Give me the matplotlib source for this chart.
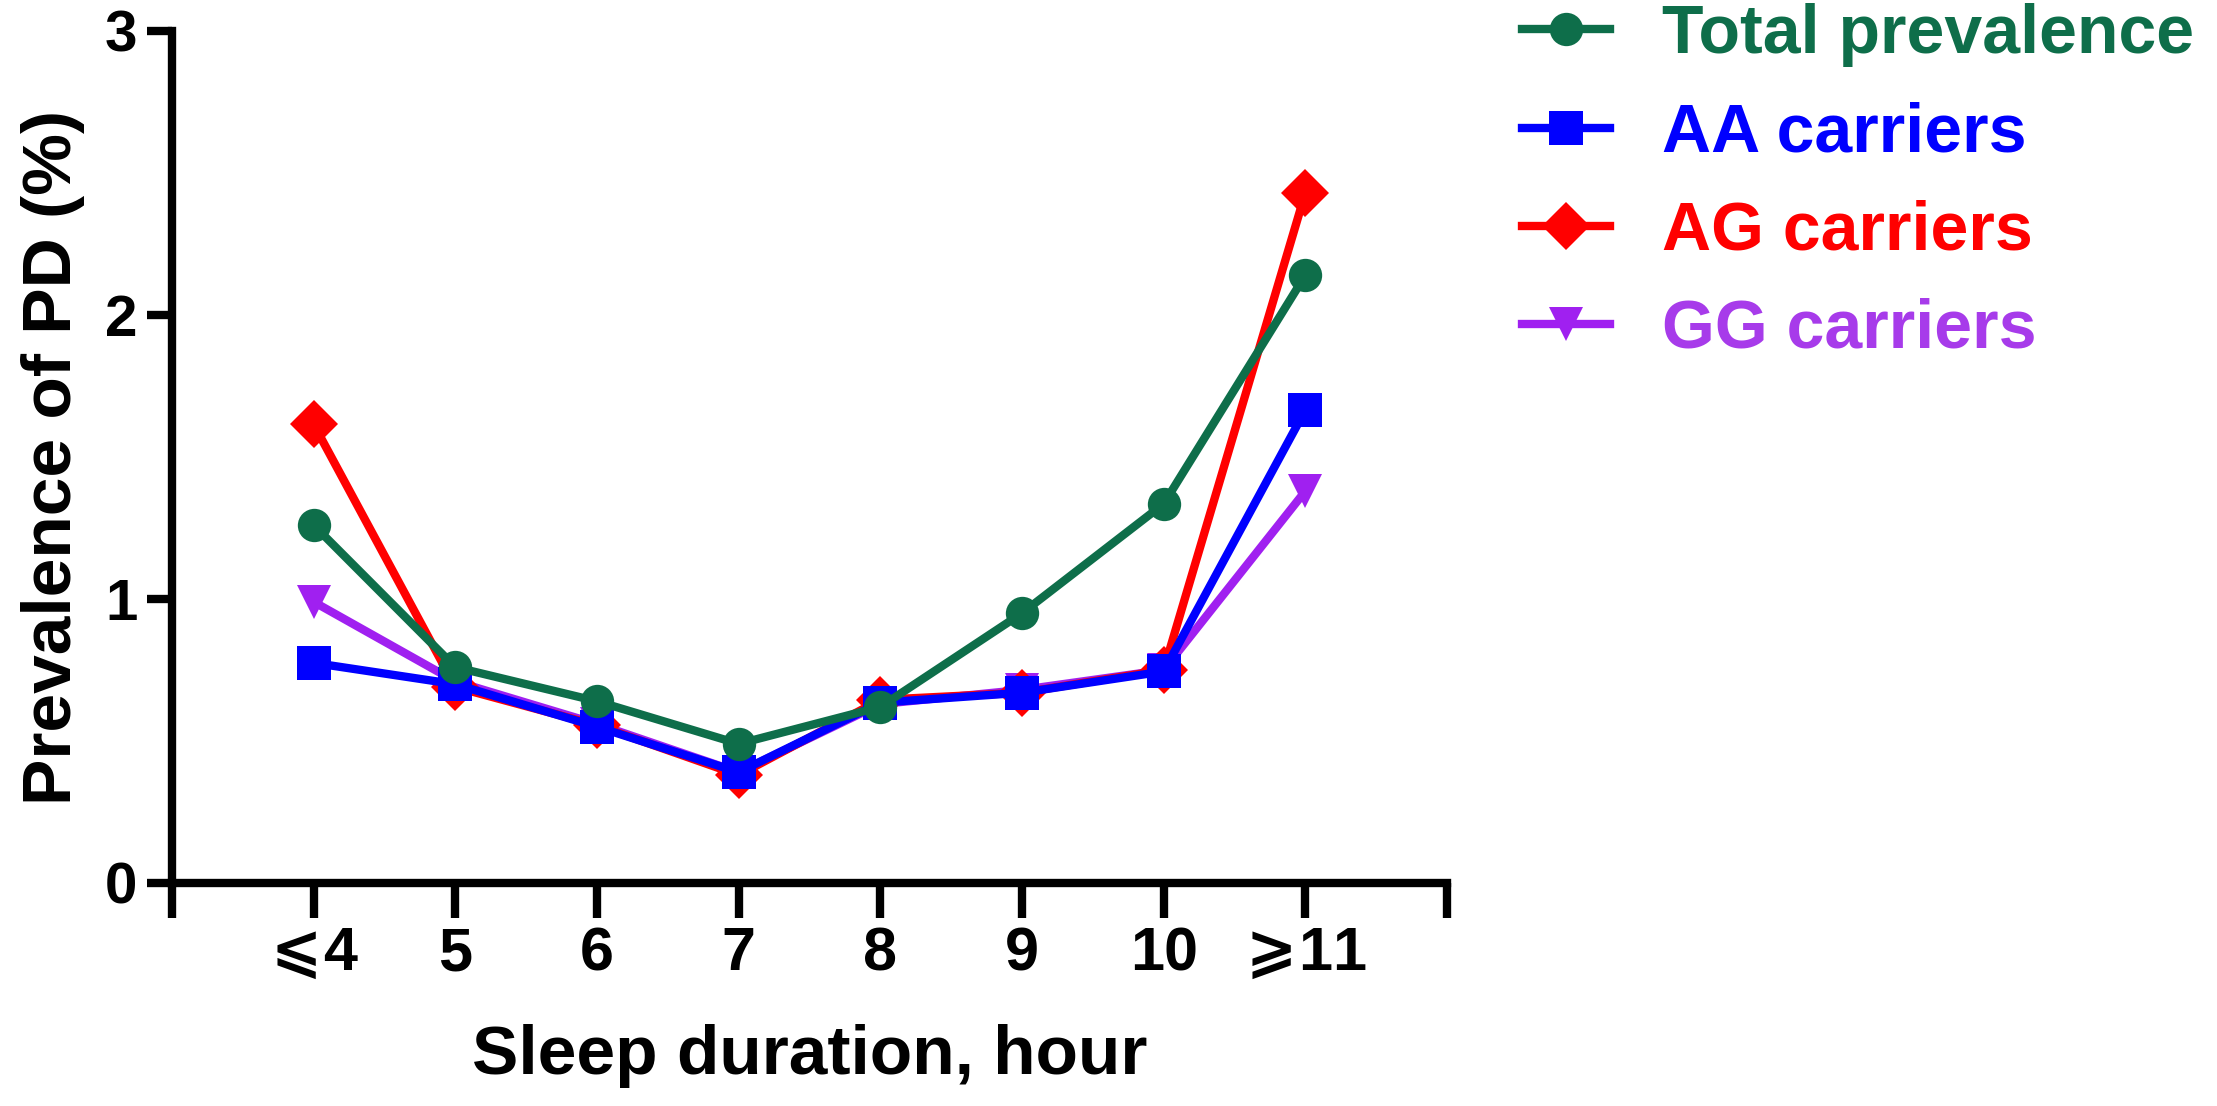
import matplotlib
matplotlib.use('Agg')
import matplotlib.pyplot as plt

plt.rcParams['font.family'] = ['Liberation Sans', 'DejaVu Sans']
plt.rcParams['font.weight'] = 'bold'
plt.rcParams['mathtext.fontset'] = 'dejavusans'

hours = [4, 5, 6, 7, 8, 9, 10, 11]
tick_labels = ['', r'$\!\leqslant\!$4', '5', '6', '7', '8', '9', '10', r'$\!\geqslant\!$11', '']

total = [1.26, 0.76, 0.64, 0.49, 0.62, 0.95, 1.335, 2.14]
aa = [0.775, 0.70, 0.55, 0.39, 0.635, 0.67, 0.745, 1.665]
ag = [1.615, 0.69, 0.555, 0.38, 0.645, 0.67, 0.75, 2.43]
gg = [0.99, 0.71, 0.56, 0.39, 0.63, 0.68, 0.75, 1.38]

# drawn bottom to top: GG, AG, AA, Total
series = [
    ('GG carriers', gg, '#A020F0', 'v', '#A73BEA'),
    ('AG carriers', ag, '#FF0000', 'D', '#FF0000'),
    ('AA carriers', aa, '#0000FF', 's', '#0000FF'),
    ('Total prevalence', total, '#0E6E4A', 'o', '#0E6E4A'),
]
sizes = {'v': 25, 'D': 24, 's': 25, 'o': 24}

fig = plt.figure(figsize=(22.17, 11.06), dpi=100)
ax = fig.add_axes([172/2217, 1-883/1106, 1275/2217, 852/1106])

handles = {}
for name, vals, col, mk, _ in series:
    ln, = ax.plot(hours, vals, color=col, lw=6, marker=mk,
                  markersize=sizes[mk], markeredgewidth=0, label=name,
                  clip_on=False)
    handles[name] = ln

ax.set_xlim(3, 12)
ax.set_ylim(0, 3)
ax.set_xticks(range(3, 13))
ax.set_xticklabels(tick_labels)
ax.set_yticks([0, 1, 2, 3])
for s in ['top', 'right']:
    ax.spines[s].set_visible(False)
for s in ['left', 'bottom']:
    ax.spines[s].set_linewidth(6)
ax.tick_params(axis='x', direction='out', length=25, width=6, pad=6, labelsize=44)
ax.tick_params(axis='y', direction='out', length=18, width=6, pad=7, labelsize=42)
for t in ax.get_xticklabels() + ax.get_yticklabels():
    t.set_fontweight('bold')

ax.set_xlabel('Sleep duration, hour', fontsize=50, fontweight='bold')
ax.set_ylabel('Prevalence of PD (%)', fontsize=50, fontweight='bold')
ax.xaxis.set_label_coords(0.5, -0.165)
ax.yaxis.set_label_coords(-0.068, 0.5)

order = ['Total prevalence', 'AA carriers', 'AG carriers', 'GG carriers']
text_cols = {n: tc for n, _, _, _, tc in series}
leg = ax.legend([handles[n] for n in order], order, loc='upper left',
                bbox_to_anchor=(1522/2217, 0.997), bbox_transform=fig.transFigure,
                frameon=False, handlelength=1.3, handletextpad=0.75,
                labelspacing=0.5, borderpad=0, borderaxespad=0,
                prop={'weight': 'bold', 'size': 49})
for txt, n in zip(leg.get_texts(), order):
    txt.set_color(text_cols[n])

fig.savefig('out.png', dpi=100)
